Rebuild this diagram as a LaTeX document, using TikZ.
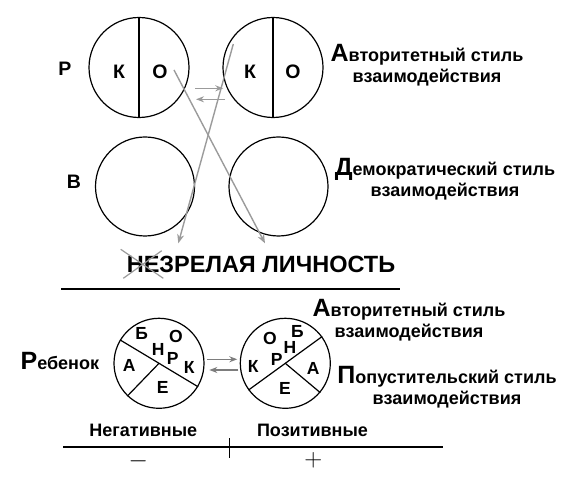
\documentclass[tikz,border=0pt]{standalone}
\usepackage{fontspec}
\setmainfont{Liberation Sans}
\usetikzlibrary{arrows.meta, positioning, calc}
\definecolor{agray}{RGB}{155,155,155}
\definecolor{dgray}{RGB}{125,125,125}
\newcommand{\firstletter}[1]{{\fontsize{25}{25}\selectfont #1}}
\tikzset{
  lbl/.style={font=\bfseries\fontsize{18}{21}\selectfont, inner sep=0pt},
  letter/.style={font=\bfseries\fontsize{19.5}{19.5}\selectfont, inner sep=0pt},
  part/.style={font=\bfseries\fontsize{17.5}{17.5}\selectfont, inner sep=0pt},
  ring/.style={circle, draw, line width=1.2pt, inner sep=0pt},
  link/.style={draw=agray, line width=1.4pt, -{Stealth[length=9pt, width=7pt]}},
  swap/.style={draw=dgray, line width=1.4pt, -{Stealth[length=8pt, width=6pt]}},
}

\begin{document}
\begin{tikzpicture}[x=1pt, y=-1pt]
  \useasboundingbox (0,0) rectangle (568,486);

  % upper circles
  \node[ring, minimum size=100pt] (rk) at (139,67.5) {};
  \node[ring, minimum size=100pt] (ak) at (273,67.5) {};
  \node[ring, minimum size=99pt] (vc) at (145,186.5) {};
  \node[ring, minimum size=99pt] (dc) at (278.5,186.5) {};
  \draw[line width=1.4pt] (rk.north) -- (rk.south);
  \draw[line width=1.4pt] (ak.north) -- (ak.south);

  \node[letter, anchor=base] (r) at (65,76) {Р};
  \node[letter, anchor=base] (v) at (74,188.3) {В};
  \node[letter, anchor=base] (rk1) at (119,78.3) {К};
  \node[letter, anchor=base] (ro1) at (160,78.3) {О};
  \node[letter, anchor=base] (ak1) at (250,78.3) {К};
  \node[letter, anchor=base] (ao1) at (293,78.3) {О};

  \node[lbl, align=center, anchor=base] (avt) at (427,83)
    {\firstletter{А}вторитетный стиль\\взаимодействия};
  \node[lbl, align=center, anchor=base] (dem) at (445,197)
    {\firstletter{Д}емократический стиль\\взаимодействия};

  \node[font=\bfseries\fontsize{23.5}{23.5}\selectfont, inner sep=0pt,
        anchor=base] (title) at (261,272.7) {НЕЗРЕЛАЯ ЛИЧНОСТЬ};
  \draw[agray, line width=1.2pt] (120.7,249.3) -- (163.3,278.3);
  \draw[agray, line width=1.2pt] (123.3,278.3) -- (161.7,250.7);

  % connectors, upper part
  \coordinate (s1) at (174,70);
  \coordinate (t1) at (265,243.3);
  \coordinate (s2) at (233.3,44);
  \coordinate (t2) at (178.3,243.3);
  \draw[link] (s1) -- (t1);
  \draw[link] (s2) -- (t2);
  \coordinate (f1) at (195,88.3);
  \coordinate (f2) at (223.3,88.3);
  \coordinate (g1) at (225,99.3);
  \coordinate (g2) at (196,99.3);
  \draw[link, -{Stealth[length=8pt, width=6pt]}] (f1) -- (f2);
  \draw[link, -{Stealth[length=8pt, width=6pt]}] (g1) -- (g2);

  \draw[line width=2pt] (61,288.7) -- (400,288.7);

  % lower circles
  \node[ring, minimum size=90pt] (neg) at (159,363.3) {};
  \node[ring, minimum size=90pt] (pos) at (285.3,363.3) {};
  \draw[line width=1.2pt] (neg.149) -- (neg.-31);
  \draw[line width=1.2pt] (neg.center) -- (neg.226);
  \draw[line width=1.2pt] (pos.216) -- (pos.36);
  \draw[line width=1.2pt] (pos.center) -- (pos.-40);

  \node[part] (nb) at (141.7,333.3) {Б};
  \node[part] (no) at (176,336.7) {О};
  \node[part] (nn) at (158.3,349.3) {Н};
  \node[part] (nr) at (172.7,358.3) {Р};
  \node[part] (nk) at (189.3,367.3) {К};
  \node[part] (na) at (129.3,365) {А};
  \node[part] (ne) at (162.7,387.3) {Е};

  \node[part] (po) at (270,338.3) {О};
  \node[part] (pb) at (297.3,331.7) {Б};
  \node[part] (pn) at (290,347.3) {Н};
  \node[part] (pr) at (276.7,359.3) {Р};
  \node[part] (pk) at (253.3,366.7) {К};
  \node[part] (pa) at (313.3,368.3) {А};
  \node[part] (pe) at (285,388.3) {Е};

  \coordinate (h1) at (207.3,359.3);
  \coordinate (h2) at (237.3,359.3);
  \coordinate (k1) at (238.3,370);
  \coordinate (k2) at (209.3,370);
  \draw[swap] (h1) -- (h2);
  \draw[swap] (k1) -- (k2);

  \node[lbl, anchor=base east] (child) at (99.3,370) {\firstletter{Р}ебенок};
  \node[lbl, align=center, anchor=base] (avt2) at (409,338)
    {\firstletter{А}вторитетный стиль\\взаимодействия};
  \node[lbl, align=center, anchor=base] (pop) at (447,405)
    {\firstletter{П}опустительский стиль\\взаимодействия};

  % scale
  \node[lbl, anchor=base] (negt) at (143.3,436.7) {Негативные};
  \node[lbl, anchor=base] (post) at (312.5,436.7) {Позитивные};
  \draw[line width=2pt] (63.3,447.3) -- (443.3,447.3);
  \draw[line width=1.6pt] (229.3,438.3) -- (229.3,458.3);
  \node[font=\fontsize{25}{25}\selectfont, inner sep=0pt] (minus) at (138.3,461.7) {$-$};
  \node[font=\fontsize{25}{25}\selectfont, inner sep=0pt] (plus) at (313.3,460) {$+$};
\end{tikzpicture}
\end{document}
